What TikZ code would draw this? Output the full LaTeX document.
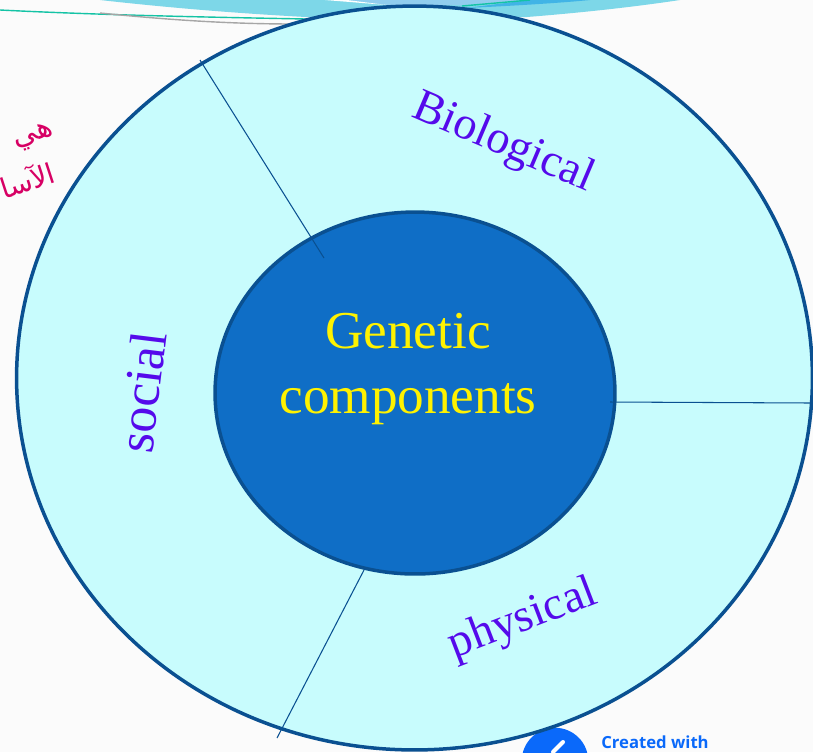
\documentclass[tikz,border=0pt]{standalone}
\usepackage{fontspec}
\usepackage{xcolor}
\setmainfont{Liberation Serif}
\newfontfamily\arabicfont[Script=Arabic]{DejaVu Sans}
\newfontfamily\logofont{Open Sans}
\TeXXeTstate=1
\usetikzlibrary{shapes.geometric}
\definecolor{ringblue}{RGB}{10,80,145}
\definecolor{ringfill}{RGB}{200,252,253}
\definecolor{corefill}{RGB}{15,110,198}
\definecolor{labelviolet}{RGB}{85,10,235}
\definecolor{notered}{RGB}{215,0,100}
\definecolor{swooshpale}{RGB}{125,215,232}
\definecolor{swooshmid}{RGB}{65,180,230}
\definecolor{swooshsoft}{RGB}{145,205,238}
\definecolor{linemint}{RGB}{20,195,165}
\definecolor{logoblue}{RGB}{10,105,250}
\definecolor{pagegrey}{RGB}{251,251,251}

\begin{document}
\begin{tikzpicture}[
  x=0.02cm, y=-0.02cm,
  ring/.style={ellipse, draw=ringblue, line width=0.07cm, inner sep=0pt, outer sep=0pt},
  spoke/.style={draw=ringblue, line width=0.6pt},
  sector/.style={text=labelviolet, inner sep=0pt},
  note/.style={text=notered, inner sep=0pt, rotate=18}
]
  \useasboundingbox (0,0) rectangle (813,752);
  \clip (0,0) rectangle (813,752);
  \fill[pagegrey] (0,0) rectangle (813,752);

  % swooshes behind the ring
  \fill[swooshpale] (100,0) .. controls (180,9) and (250,14) .. (306,17) -- (527,17)
    .. controls (590,12) and (640,6) .. (680,0) -- cycle;
  \fill[swooshsoft] (347,0) -- (387,5) -- (480,5) -- (530,0) -- cycle;
  \fill[white] (325,0) -- (387,5) -- (347,0) -- cycle;
  \fill[swooshmid] (465,8) .. controls (510,6) and (560,3) .. (590,0) -- (530,0) -- cycle;
  \draw[linemint, line width=0.8pt] (0,10) .. controls (100,15) and (200,17) .. (306,19);
  \draw[gray!70, line width=0.8pt] (100,13) .. controls (170,20) and (230,24) .. (295,24);
  \draw[linemint, line width=0.8pt] (462,6) -- (530,0);

  % logo below the ring
  \node[circle, fill=logoblue, minimum size=1.33cm, inner sep=0pt] (logo) at (555,761) {};
  \draw[white, line width=2.3pt, line cap=round] (553,752) -- (563,742);
  \node[text=logoblue, font=\logofont\bfseries\fontsize{9.5}{12}\selectfont, inner sep=0pt] (made) at (655,742) {Created with};

  % rings
  \node[ring, fill=ringfill, minimum width=15.92cm, minimum height=14.88cm] (outer) at (414.5,378) {};
  \coordinate (s1) at (200,60);
  \coordinate (s2) at (324,258);
  \coordinate (s3) at (610,402);
  \coordinate (s4) at (813,403);
  \coordinate (s5) at (364,570);
  \coordinate (s6) at (277,738);
  \node[ring, fill=corefill, minimum width=8cm, minimum height=7.24cm] (inner) at (415,393) {};
  \draw[spoke] (s1) -- (s2);
  \draw[spoke] (s3) -- (s4);
  \draw[spoke] (s5) -- (s6);

  % labels
  \node[text=yellow, align=center, inner sep=0pt, font=\fontsize{30.3}{37}\selectfont] (core) at (408,369) {Genetic\\components};
  \node[sector, rotate=-23, font=\fontsize{26.3}{30}\selectfont] (bio) at (503,144) {Biological};
  \node[sector, rotate=83, font=\fontsize{29.5}{30}\selectfont] (soc) at (142,392) {social};
  \node[sector, rotate=21, font=\fontsize{26.5}{30}\selectfont] (phy) at (523,620) {physical};

  % handwriting on the left
  \node[note, font=\arabicfont\fontsize{17}{17}\selectfont] (note1) at (34,137) {\beginR هي\endR};
  \node[note, font=\arabicfont\fontsize{16}{16}\selectfont] (note2) at (27,179) {\beginR الآسا\endR};
\end{tikzpicture}
\end{document}
